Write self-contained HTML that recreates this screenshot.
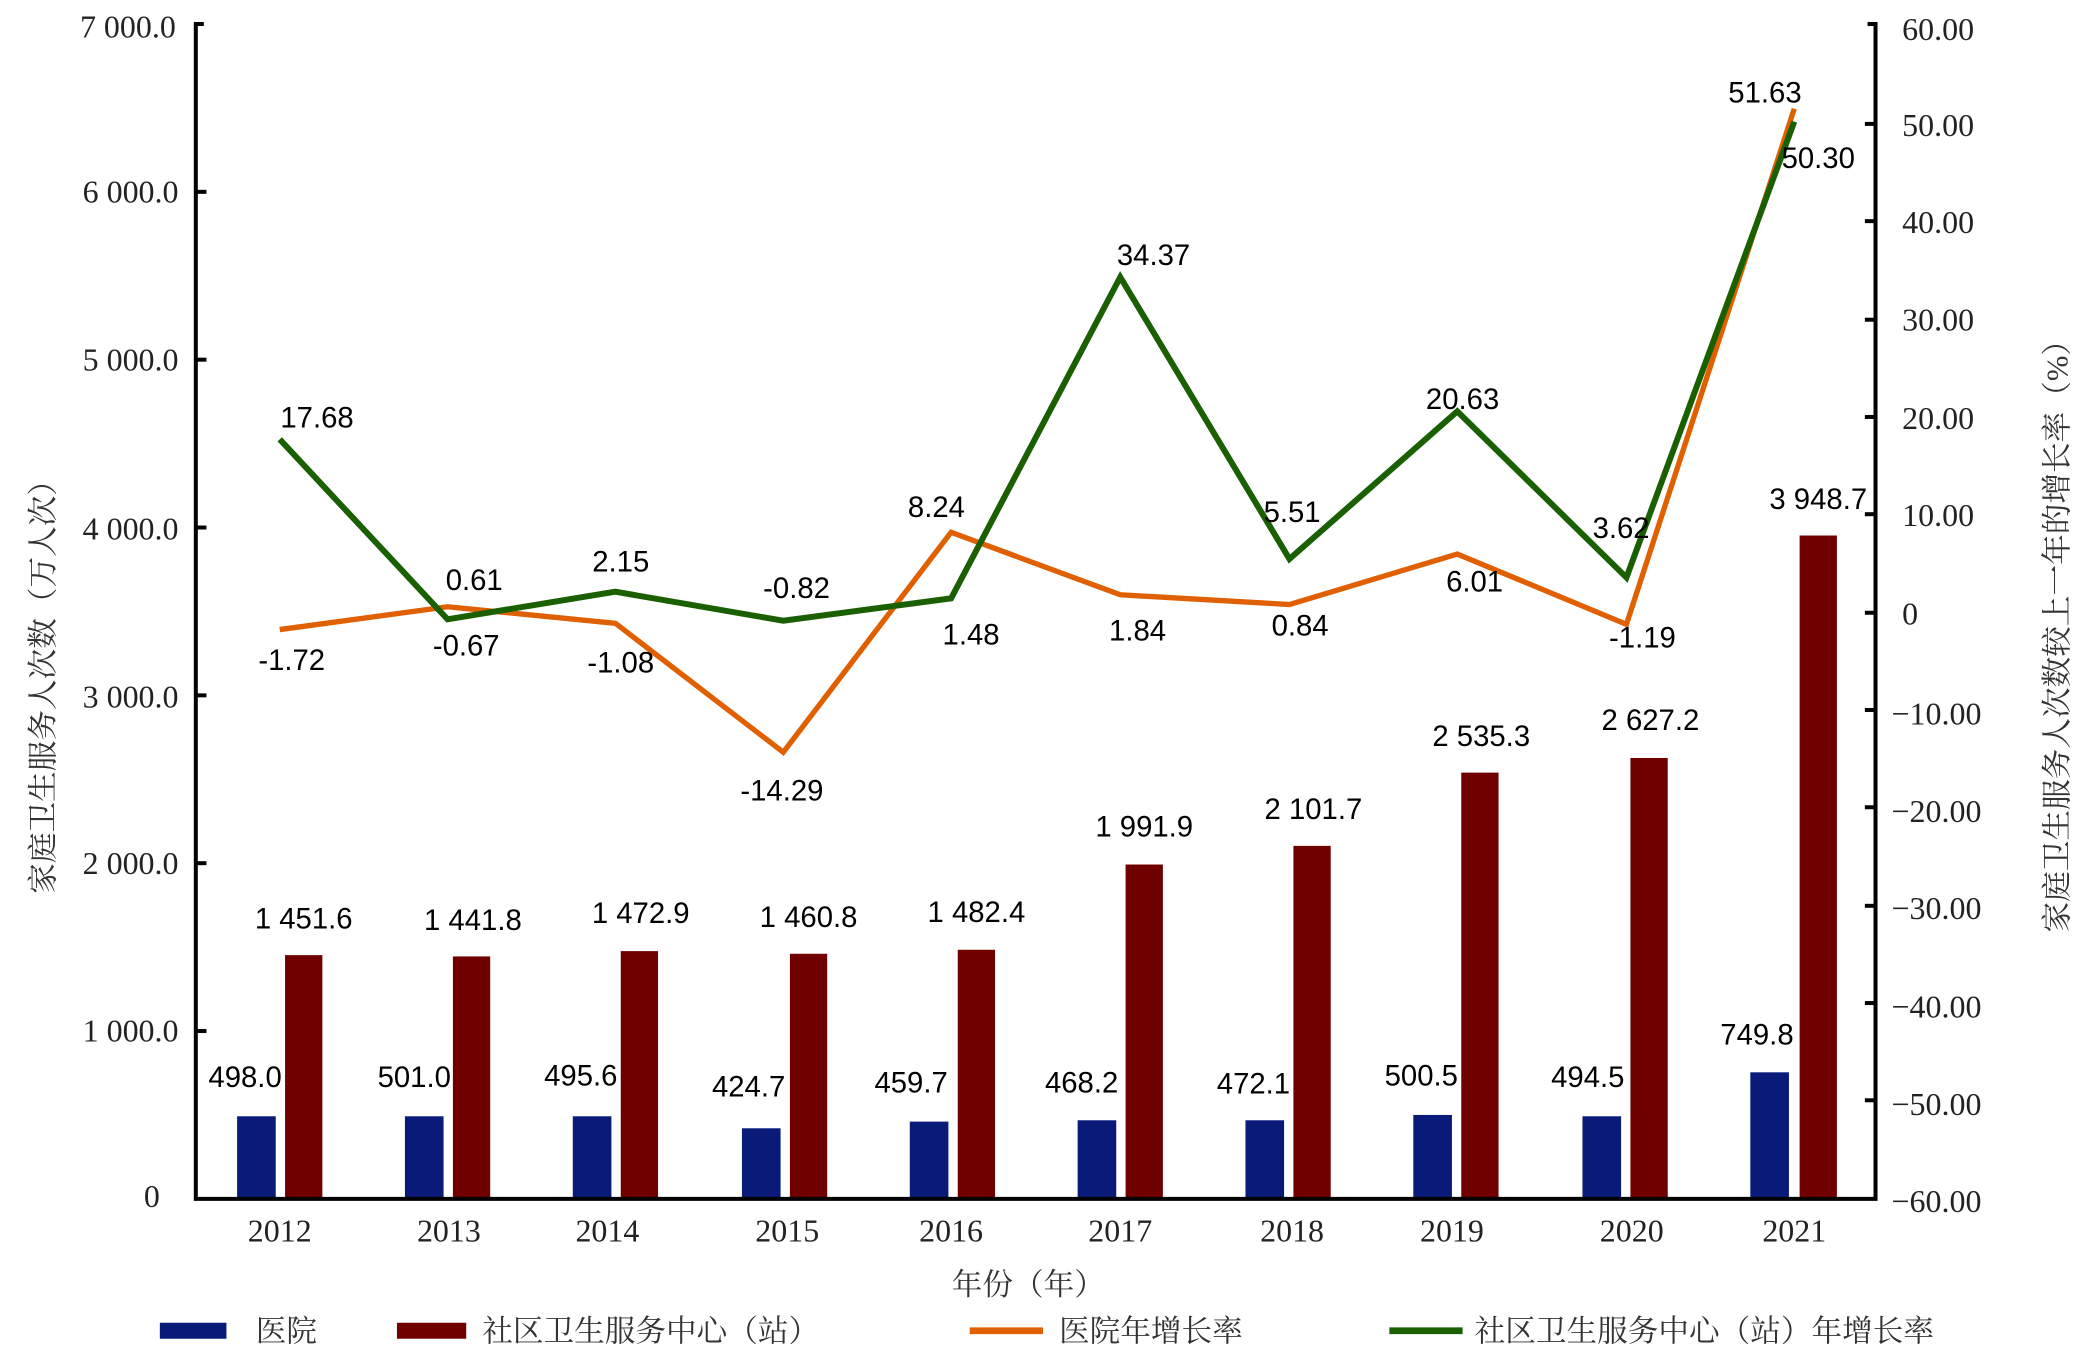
<!DOCTYPE html>
<html><head><meta charset="utf-8"><style>
html,body{margin:0;padding:0;background:#fff}
svg{display:block}
.t{font-family:"Liberation Serif","Noto Serif CJK SC",serif;font-size:24px;fill:#222}
.d{font-family:"Liberation Sans","Noto Sans CJK SC",sans-serif;font-size:22px;fill:#000}
.c{font-family:"Liberation Serif","Noto Serif CJK SC","Noto Sans CJK SC",serif;font-size:23px;fill:#333}
</style></head><body>
<svg width="2078" height="1359" viewBox="0 0 1560 1020.2" xmlns="http://www.w3.org/2000/svg">
<rect width="1560" height="1021" fill="#fff"/>
<g fill="#0a1a78">
<rect x="178" y="838" width="29" height="62"/>
<rect x="304" y="838" width="29" height="62"/>
<rect x="430" y="838" width="29" height="62"/>
<rect x="557" y="847" width="29" height="53"/>
<rect x="683" y="842" width="29" height="58"/>
<rect x="809" y="841" width="29" height="59"/>
<rect x="935" y="841" width="29" height="59"/>
<rect x="1061" y="837" width="29" height="63"/>
<rect x="1188" y="838" width="29" height="62"/>
<rect x="1314" y="805" width="29" height="95"/>
</g>
<g fill="#700000">
<rect x="214" y="717" width="28" height="183"/>
<rect x="340" y="718" width="28" height="182"/>
<rect x="466" y="714" width="28" height="186"/>
<rect x="593" y="716" width="28" height="184"/>
<rect x="719" y="713" width="28" height="187"/>
<rect x="845" y="649" width="28" height="251"/>
<rect x="971" y="635" width="28" height="265"/>
<rect x="1097" y="580" width="28" height="320"/>
<rect x="1224" y="569" width="28" height="331"/>
<rect x="1351" y="402" width="28" height="498"/>
</g>
<polyline fill="none" stroke="#e06000" stroke-width="4" stroke-linejoin="miter" points="210,472.6 336,455.5 462,467.9 588,564.7 714,399.6 841,446.5 968,453.8 1094,415.9 1221,468.7 1347,81.6"/>
<polyline fill="none" stroke="#1a6000" stroke-width="4.5" stroke-linejoin="miter" points="210,329.8 336,464.9 462,444.2 588,466 714,449.2 841,208 968,419.6 1094,308.8 1221,433.5 1347,91.3"/>
<g stroke="#000" stroke-width="3" fill="none">
<polyline points="153,18 147,18 147,900 1408,900 1408,18 1402,18"/>
<line x1="147" y1="144" x2="155" y2="144"/><line x1="147" y1="270" x2="155" y2="270"/><line x1="147" y1="396" x2="155" y2="396"/><line x1="147" y1="522" x2="155" y2="522"/><line x1="147" y1="648" x2="155" y2="648"/><line x1="147" y1="774" x2="155" y2="774"/>
<line x1="1400" y1="93" x2="1408" y2="93"/><line x1="1400" y1="166" x2="1408" y2="166"/><line x1="1400" y1="240" x2="1408" y2="240"/><line x1="1400" y1="313" x2="1408" y2="313"/><line x1="1400" y1="386" x2="1408" y2="386"/><line x1="1400" y1="460" x2="1408" y2="460"/><line x1="1400" y1="533" x2="1408" y2="533"/><line x1="1400" y1="606" x2="1408" y2="606"/><line x1="1400" y1="680" x2="1408" y2="680"/><line x1="1400" y1="753" x2="1408" y2="753"/><line x1="1400" y1="826" x2="1408" y2="826"/>
</g>
<g class="t" text-anchor="end">
<text x="132" y="28">7 000.0</text><text x="134" y="152">6 000.0</text><text x="134" y="278">5 000.0</text><text x="134" y="405">4 000.0</text><text x="134" y="531">3 000.0</text><text x="134" y="656">2 000.0</text><text x="134" y="782">1 000.0</text><text x="120" y="906">0</text>
</g>
<g class="t">
<text x="1428" y="30">60.00</text><text x="1428" y="102">50.00</text><text x="1428" y="175">40.00</text><text x="1428" y="248">30.00</text><text x="1428" y="322">20.00</text><text x="1428" y="395">10.00</text><text x="1428" y="469">0</text>
<text x="1420" y="544">−10.00</text><text x="1420" y="617">−20.00</text><text x="1420" y="690">−30.00</text><text x="1420" y="764">−40.00</text><text x="1420" y="837">−50.00</text><text x="1420" y="910">−60.00</text>
</g>
<g class="t" text-anchor="middle">
<text x="210" y="932">2012</text><text x="337" y="932">2013</text><text x="456" y="932">2014</text><text x="591" y="932">2015</text><text x="714" y="932">2016</text><text x="841" y="932">2017</text><text x="970" y="932">2018</text><text x="1090" y="932">2019</text><text x="1225" y="932">2020</text><text x="1347" y="932">2021</text>
</g>
<g class="d" text-anchor="middle">
<text x="184" y="816">498.0</text><text x="311" y="816">501.0</text><text x="436" y="815">495.6</text><text x="562" y="823">424.7</text><text x="684" y="820">459.7</text><text x="812" y="820">468.2</text><text x="941" y="821">472.1</text><text x="1067" y="815">500.5</text><text x="1192" y="816">494.5</text><text x="1319" y="784">749.8</text>
<text x="228" y="697">1 451.6</text><text x="355" y="698">1 441.8</text><text x="481" y="693">1 472.9</text><text x="607" y="696">1 460.8</text><text x="733" y="692">1 482.4</text><text x="859" y="628">1 991.9</text><text x="986" y="615">2 101.7</text><text x="1112" y="560">2 535.3</text><text x="1239" y="548">2 627.2</text><text x="1365" y="382">3 948.7</text>
<text x="238" y="321">17.68</text><text x="356" y="443">0.61</text><text x="466" y="429">2.15</text><text x="598" y="449">-0.82</text><text x="703" y="388">8.24</text><text x="866" y="199">34.37</text><text x="970" y="392">5.51</text><text x="1098" y="307">20.63</text><text x="1217" y="404">3.62</text><text x="1325" y="77">51.63</text>
<text x="219" y="503">-1.72</text><text x="350" y="492">-0.67</text><text x="466" y="505">-1.08</text><text x="587" y="601">-14.29</text><text x="729" y="484">1.48</text><text x="854" y="481">1.84</text><text x="976" y="477">0.84</text><text x="1107" y="444">6.01</text><text x="1233" y="486">-1.19</text><text x="1365" y="126">50.30</text>
</g>
<text class="c" transform="translate(40,510) rotate(-90)" text-anchor="middle">家庭卫生服务人次数（万人次）</text>
<text class="c" transform="translate(1552,472) rotate(-90)" text-anchor="middle">家庭卫生服务人次数较上一年的增长率（%）</text>
<text class="c" x="772" y="972" text-anchor="middle">年份（年）</text>
<rect x="120" y="993" width="50" height="12" fill="#0a1a78"/>
<text class="c" x="192" y="1007">医院</text>
<rect x="298" y="993" width="52" height="12" fill="#700000"/>
<text class="c" x="362" y="1007">社区卫生服务中心（站）</text>
<line x1="728" y1="999" x2="783" y2="999" stroke="#e06000" stroke-width="5"/>
<text class="c" x="795" y="1007">医院年增长率</text>
<line x1="1043" y1="999" x2="1098" y2="999" stroke="#1a6000" stroke-width="5"/>
<text class="c" x="1107" y="1007">社区卫生服务中心（站）年增长率</text>
</svg>
</body></html>
